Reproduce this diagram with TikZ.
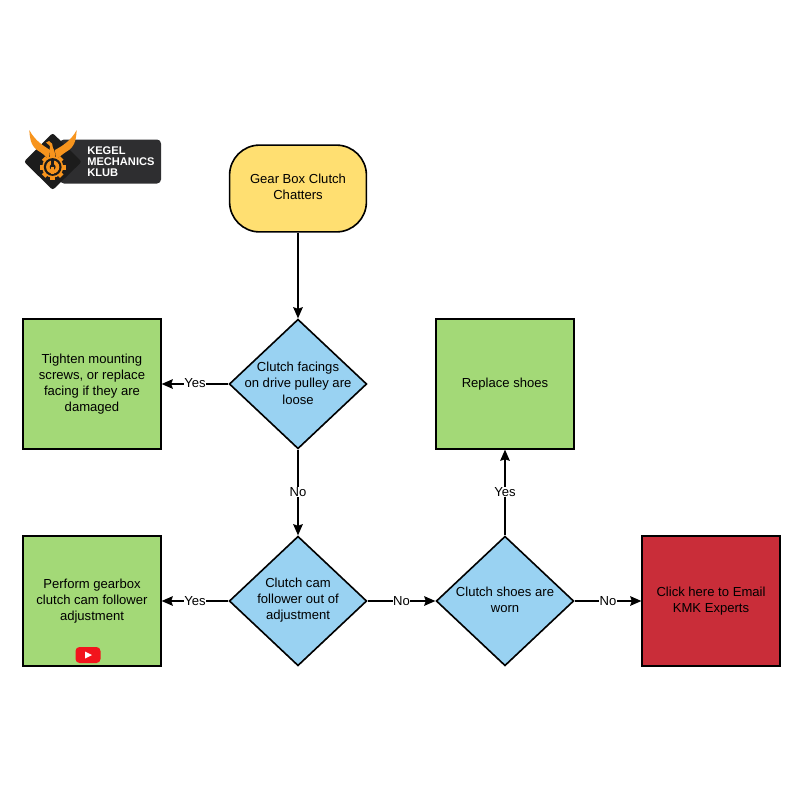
\documentclass[tikz,border=0pt]{standalone}
\usepackage{fontspec}
\setmainfont{Liberation Sans}
\usetikzlibrary{arrows.meta,shapes.geometric}
\definecolor{kmkYellow}{HTML}{FFDF71}
\definecolor{kmkGreen}{HTML}{A3D977}
\definecolor{kmkBlue}{HTML}{99D2F2}
\definecolor{kmkRed}{HTML}{C92D39}
\definecolor{kmkOrange}{HTML}{F7941D}
\definecolor{kmkDark}{HTML}{2E2E30}
\definecolor{kmkBlack}{HTML}{1C1C1C}
\definecolor{kmkPlay}{HTML}{F2141C}

\begin{document}
\begin{tikzpicture}[x=0.25mm,y=-0.25mm,font=\fontsize{9.3}{11.4}\selectfont,
  txt/.style={align=center, inner sep=0pt, text=black},
  startbox/.style={draw=black, line width=1.15pt, fill=kmkYellow, rounded corners=7.5mm, minimum width=34.2mm, minimum height=21.7mm, txt},
  actbox/.style={draw=black, line width=1.15pt, fill=kmkGreen, minimum width=34.4mm, minimum height=32.4mm, txt},
  mailbox/.style={actbox, fill=kmkRed},
  decis/.style={draw=black, line width=1.15pt, fill=kmkBlue, diamond, aspect=1.06, inner sep=0pt, minimum width=34.4mm, minimum height=32.4mm},
  dtext/.style={txt},
  lnk/.style={draw=black, line width=1.1pt, -{Stealth[length=2.8mm,width=2.4mm,inset=0.4mm]}},
  lab/.style={fill=white, inner sep=0.4pt, text=black},
]
\useasboundingbox (0,0) rectangle (800,800);
% ---- start ----
\node[startbox,label={[dtext,yshift=1.5pt]center:Gear Box Clutch\\Chatters}] (gear) at (298,188.5) {};
% ---- decisions ----
\node[decis,label={[dtext,yshift=0.5pt]center:Clutch facings\\on drive pulley are\\loose}] (facings) at (298,384) {};
\node[decis,label={[dtext,yshift=0.5pt]center:Clutch cam\\follower out of\\adjustment}] (cam) at (298,601) {};
\node[decis,label={[dtext,yshift=0.5pt]center:Clutch shoes are\\worn}] (shoes) at (505,601) {};
% ---- actions ----
\node[actbox] (tighten) at (92,384) {Tighten mounting\\screws, or replace\\facing if they are\\damaged};
\node[actbox] (replace) at (505,384) {Replace shoes};
\node[actbox] (perform) at (92,601) {Perform gearbox\\clutch cam follower\\adjustment};
\node[mailbox] (email) at (711,601) {Click here to Email\\KMK Experts};
% ---- connectors ----
\draw[lnk] (gear) -- (facings);
\draw[lnk] (facings) -- node[lab,yshift=0.5pt]{Yes} (tighten);
\draw[lnk] (facings) -- node[lab,yshift=0.5pt]{No} (cam);
\draw[lnk] (cam) -- node[lab]{Yes} (perform);
\draw[lnk] (cam) -- node[lab]{No} (shoes);
\draw[lnk] (shoes) -- node[lab,yshift=0.5pt]{Yes} (replace);
\draw[lnk] (shoes) -- node[lab]{No} (email);
% ---- video button ----
\node[fill=kmkPlay, rounded corners=1mm, minimum width=6.25mm, minimum height=4mm, inner sep=0pt] (video) at (88,655) {};
\fill[white] (85,651.5) -- (92,655) -- (85,658.5) -- cycle;
% ---- logo ----
\fill[kmkDark, rounded corners=1mm] (60,139.5) rectangle (161,183.5);
\fill[kmkBlack, rounded corners=0.6mm] (52.7,133) -- (81.7,161.7) -- (52.7,190) -- (24,161.7) -- cycle;
\fill[kmkOrange] (29.3,130) .. controls (30,143) and (33,147) .. (37,150) .. controls (42,153) and (46,156) .. (49,160) -- (50,150) .. controls (44,146) and (35,141) .. (29.3,130) -- cycle;
\fill[kmkOrange] (76.7,130) .. controls (76,143) and (73,147) .. (69,150) .. controls (64,153) and (59,157) .. (56,160) -- (55,150) .. controls (62,146) and (71,141) .. (76.7,130) -- cycle;
\fill[kmkOrange] (46,142.5) -- (49,141) .. controls (52,142) and (53,145) .. (53,148) .. controls (55,151) and (56,155) .. (53,159) .. controls (50,156) and (49,151) .. (50,146) -- cycle;
\foreach \a in {0,45,...,315}{
  \fill[kmkOrange, rotate around={\a:(52.7,167)}] (50.2,154.2) rectangle (55.2,158);
}
\fill[kmkOrange] (52.7,167) circle (10.6);
\fill[kmkBlack] (52.7,167) circle (8.9);
\fill[kmkOrange] (52.7,167) circle (6.6);
\fill[kmkBlack] (52.7,167) circle (3);
\fill[kmkBlack] (51.2,160) rectangle (54.2,167);
\fill[kmkOrange] (51.3,167) rectangle (54.1,173.5);
\node[anchor=west, inner sep=0pt, align=left, text=white, font=\fontsize{7.9}{7.9}\selectfont\bfseries] (logotext) at (87,161.5) {KEGEL\\MECHANICS\\KLUB};
\end{tikzpicture}
\end{document}
